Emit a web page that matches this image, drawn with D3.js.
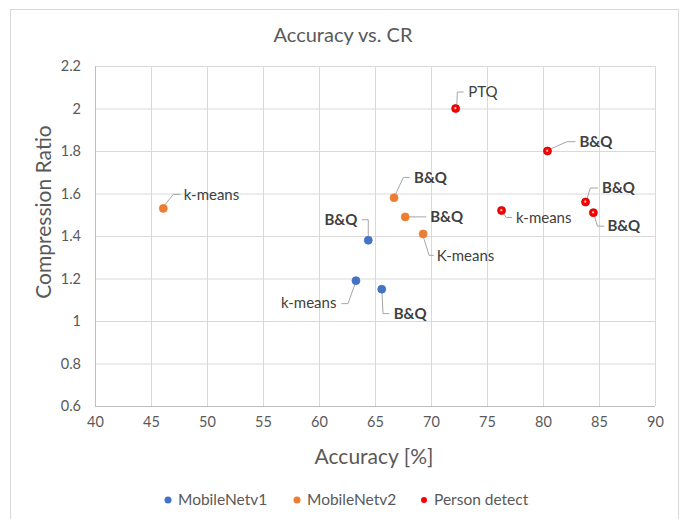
<!DOCTYPE html>
<html>
<head>
<meta charset="utf-8">
<script src="https://cdn.jsdelivr.net/npm/d3@7"></script>
<style>
  html, body { margin: 0; padding: 0; background: #fff; }
  svg { display: block; }
  text { font-family: Lato, "Open Sans", sans-serif; }
</style>
</head>
<body>
<svg id="chart" width="681" height="519"></svg>
<script>
// ---- data ----
const seriesNames = ["MobileNetv1", "MobileNetv2", "Person detect"];
const mnv1Accuracy = [64.4, 63.3, 65.6];
const mnv1CR = [1.38, 1.19, 1.15];
const mnv1Labels = ["B&Q", "k-means", "B&Q"];
const mnv2Accuracy = [46.1, 66.7, 67.7, 69.3];
const mnv2CR = [1.53, 1.58, 1.49, 1.41];
const mnv2Labels = ["k-means", "B&Q", "B&Q", "K-means"];
const pdAccuracy = [72.2, 80.4, 83.8, 84.5, 76.3];
const pdCR = [2.0, 1.80, 1.56, 1.51, 1.52];
const pdLabels = ["PTQ", "B&Q", "B&Q", "B&Q", "k-means"];
const xTicks = [40, 45, 50, 55, 60, 65, 70, 75, 80, 85, 90];
const yTicks = [0.6, 0.8, 1, 1.2, 1.4, 1.6, 1.8, 2, 2.2];

// ---- label layout (pixel offsets from the marker) ----
// t: text anchor point, a: anchor, L: leader polyline
const mnv1Layout = [
  {t: [-11, -20.5], a: "end",   L: [[-6.5, -20.5], [0, -20.5], [0, -4.5]]},
  {t: [-19.5, 22.5], a: "end",  L: [[-14.5, 23], [-8, 23], [-1, 3.5]]},
  {t: [12, 24.5], a: "start",   L: [[0.3, 4], [1.3, 24.5], [7.5, 24.5]]}
];
const mnv2Layout = [
  {t: [20.5, -14], a: "start",  L: [[1.5, -3.5], [10, -14], [17, -14]]},
  {t: [20, -20.3], a: "start",  L: [[1.5, -3.5], [9.3, -20.3], [15.5, -20.3]]},
  {t: [25, 0], a: "start",      L: [[4, 0], [21, 0]]},
  {t: [13.5, 21.5], a: "start", L: [[0.5, 4], [6, 21.5], [10.5, 21.5]]}
];
const pdLayout = [
  {t: [12.5, -16.5], a: "start", L: [[1.2, -4.5], [1.7, -16.5], [8, -16.5]]},
  {t: [32, -9.3], a: "start",    L: [[3, -2], [19.5, -9.3], [28, -9.3]]},
  {t: [16.5, -14], a: "start",   L: [[1.3, -3], [4.7, -14], [12.5, -14]]},
  {t: [14, 13.5], a: "start",    L: [[1, 3], [4, 13.5], [11, 13.5]]},
  {t: [14.5, 7], a: "start",     L: [[1.5, 2.5], [4.7, 7], [10.5, 7]]}
];

const colors = ["#4472c4", "#ed7d31", "#ff0000"];

const series = [
  {name: seriesNames[0], x: mnv1Accuracy, y: mnv1CR, labels: mnv1Labels, layout: mnv1Layout, color: colors[0]},
  {name: seriesNames[1], x: mnv2Accuracy, y: mnv2CR, labels: mnv2Labels, layout: mnv2Layout, color: colors[1]},
  {name: seriesNames[2], x: pdAccuracy, y: pdCR, labels: pdLabels, layout: pdLayout, color: colors[2]}
];

const svg = d3.select("#chart");

// chart frame
svg.append("rect").attr("x", 10.5).attr("y", 9.5).attr("width", 668).attr("height", 530)
  .attr("fill", "#fff").attr("stroke", "#d9d9d9").attr("stroke-width", 1);

const plot = {left: 95, right: 655, top: 66, bottom: 406};
const x = d3.scaleLinear().domain([40, 90]).range([plot.left, plot.right]);
const y = d3.scaleLinear().domain([0.6, 2.2]).range([plot.bottom, plot.top]);

// gridlines
const xAxis = d3.axisBottom(x).tickValues(xTicks).tickSize(-(plot.bottom - plot.top)).tickPadding(12).tickFormat(d3.format("d"));
const yAxis = d3.axisLeft(y).tickValues(yTicks).tickSize(-(plot.right - plot.left)).tickPadding(14).tickFormat(d => d3.format("~g")(d));

const gx = svg.append("g").attr("transform", `translate(0,${plot.bottom})`).call(xAxis);
const gy = svg.append("g").attr("transform", `translate(${plot.left},0)`).call(yAxis);
[gx, gy].forEach(g => {
  g.select(".domain").remove();
  g.selectAll(".tick line").attr("stroke", "#d9d9d9").attr("stroke-width", 1);
  g.selectAll(".tick text").attr("fill", "#595959").style("font-size", "14.5px");
});
gx.selectAll(".tick text").attr("dy", "0.6em");
// axis lines
svg.append("line").attr("x1", plot.left).attr("x2", plot.right).attr("y1", plot.bottom + 0.5).attr("y2", plot.bottom + 0.5)
  .attr("stroke", "#bfbfbf");
svg.append("line").attr("x1", plot.left + 0.5).attr("x2", plot.left + 0.5).attr("y1", plot.top).attr("y2", plot.bottom)
  .attr("stroke", "#bfbfbf");

// title and axis titles
svg.append("text").attr("x", 343).attr("y", 42).attr("text-anchor", "middle")
  .attr("fill", "#595959").style("font-size", "20px").text("Accuracy vs. CR");
svg.append("text").attr("x", 374).attr("y", 464).attr("text-anchor", "middle")
  .attr("fill", "#595959").style("font-size", "21px").text("Accuracy [%]");
svg.append("text").attr("transform", "translate(51,212) rotate(-90)").attr("text-anchor", "middle")
  .attr("fill", "#595959").style("font-size", "21px").text("Compression Ratio");

// leaders, labels, markers
series.forEach(s => {
  const g = svg.append("g");
  s.x.forEach((xv, i) => {
    const px = x(xv), py = y(s.y[i]);
    const lay = s.layout[i];
    g.append("path")
      .attr("d", d3.line()(lay.L.map(p => [px + p[0], py + p[1]])))
      .attr("fill", "none").attr("stroke", "#a6a6a6").attr("stroke-width", 1);
    const bold = s.labels[i] === "B&Q";
    g.append("text").attr("x", px + lay.t[0]).attr("y", py + lay.t[1]).attr("dy", "0.35em")
      .attr("text-anchor", lay.a)
      .attr("fill", "#404040")
      .style("font-size", "15px").style("font-weight", bold ? "bold" : "normal")
      .text(s.labels[i]);
  });
  g.selectAll("circle.pt").data(s.x.map((xv, i) => [xv, s.y[i]])).join("circle")
    .attr("class", "pt")
    .attr("cx", d => x(d[0])).attr("cy", d => y(d[1])).attr("r", 4)
    .attr("fill", s.color)
    .attr("stroke", s.name === "Person detect" ? "#c00000" : s.color).attr("stroke-width", 0.75);
  if (s.name === "Person detect") {
    g.selectAll("circle.hl").data(s.x.map((xv, i) => [xv, s.y[i]])).join("circle")
      .attr("class", "hl")
      .attr("cx", d => x(d[0]) - 0.3).attr("cy", d => y(d[1]) - 0.3).attr("r", 1.1)
      .attr("fill", "#ffd0d0");
  }
});

// legend
const legendX = [168, 297, 424];
const legend = svg.append("g");
series.forEach((s, i) => {
  legend.append("circle").attr("cx", legendX[i]).attr("cy", 500).attr("r", s.name === "Person detect" ? 3 : 3.5)
    .attr("fill", s.color);
  legend.append("text").attr("x", legendX[i] + 10).attr("y", 500).attr("dy", "0.35em")
    .attr("fill", "#595959").style("font-size", "15.5px").text(s.name);
});
</script>
</body>
</html>
